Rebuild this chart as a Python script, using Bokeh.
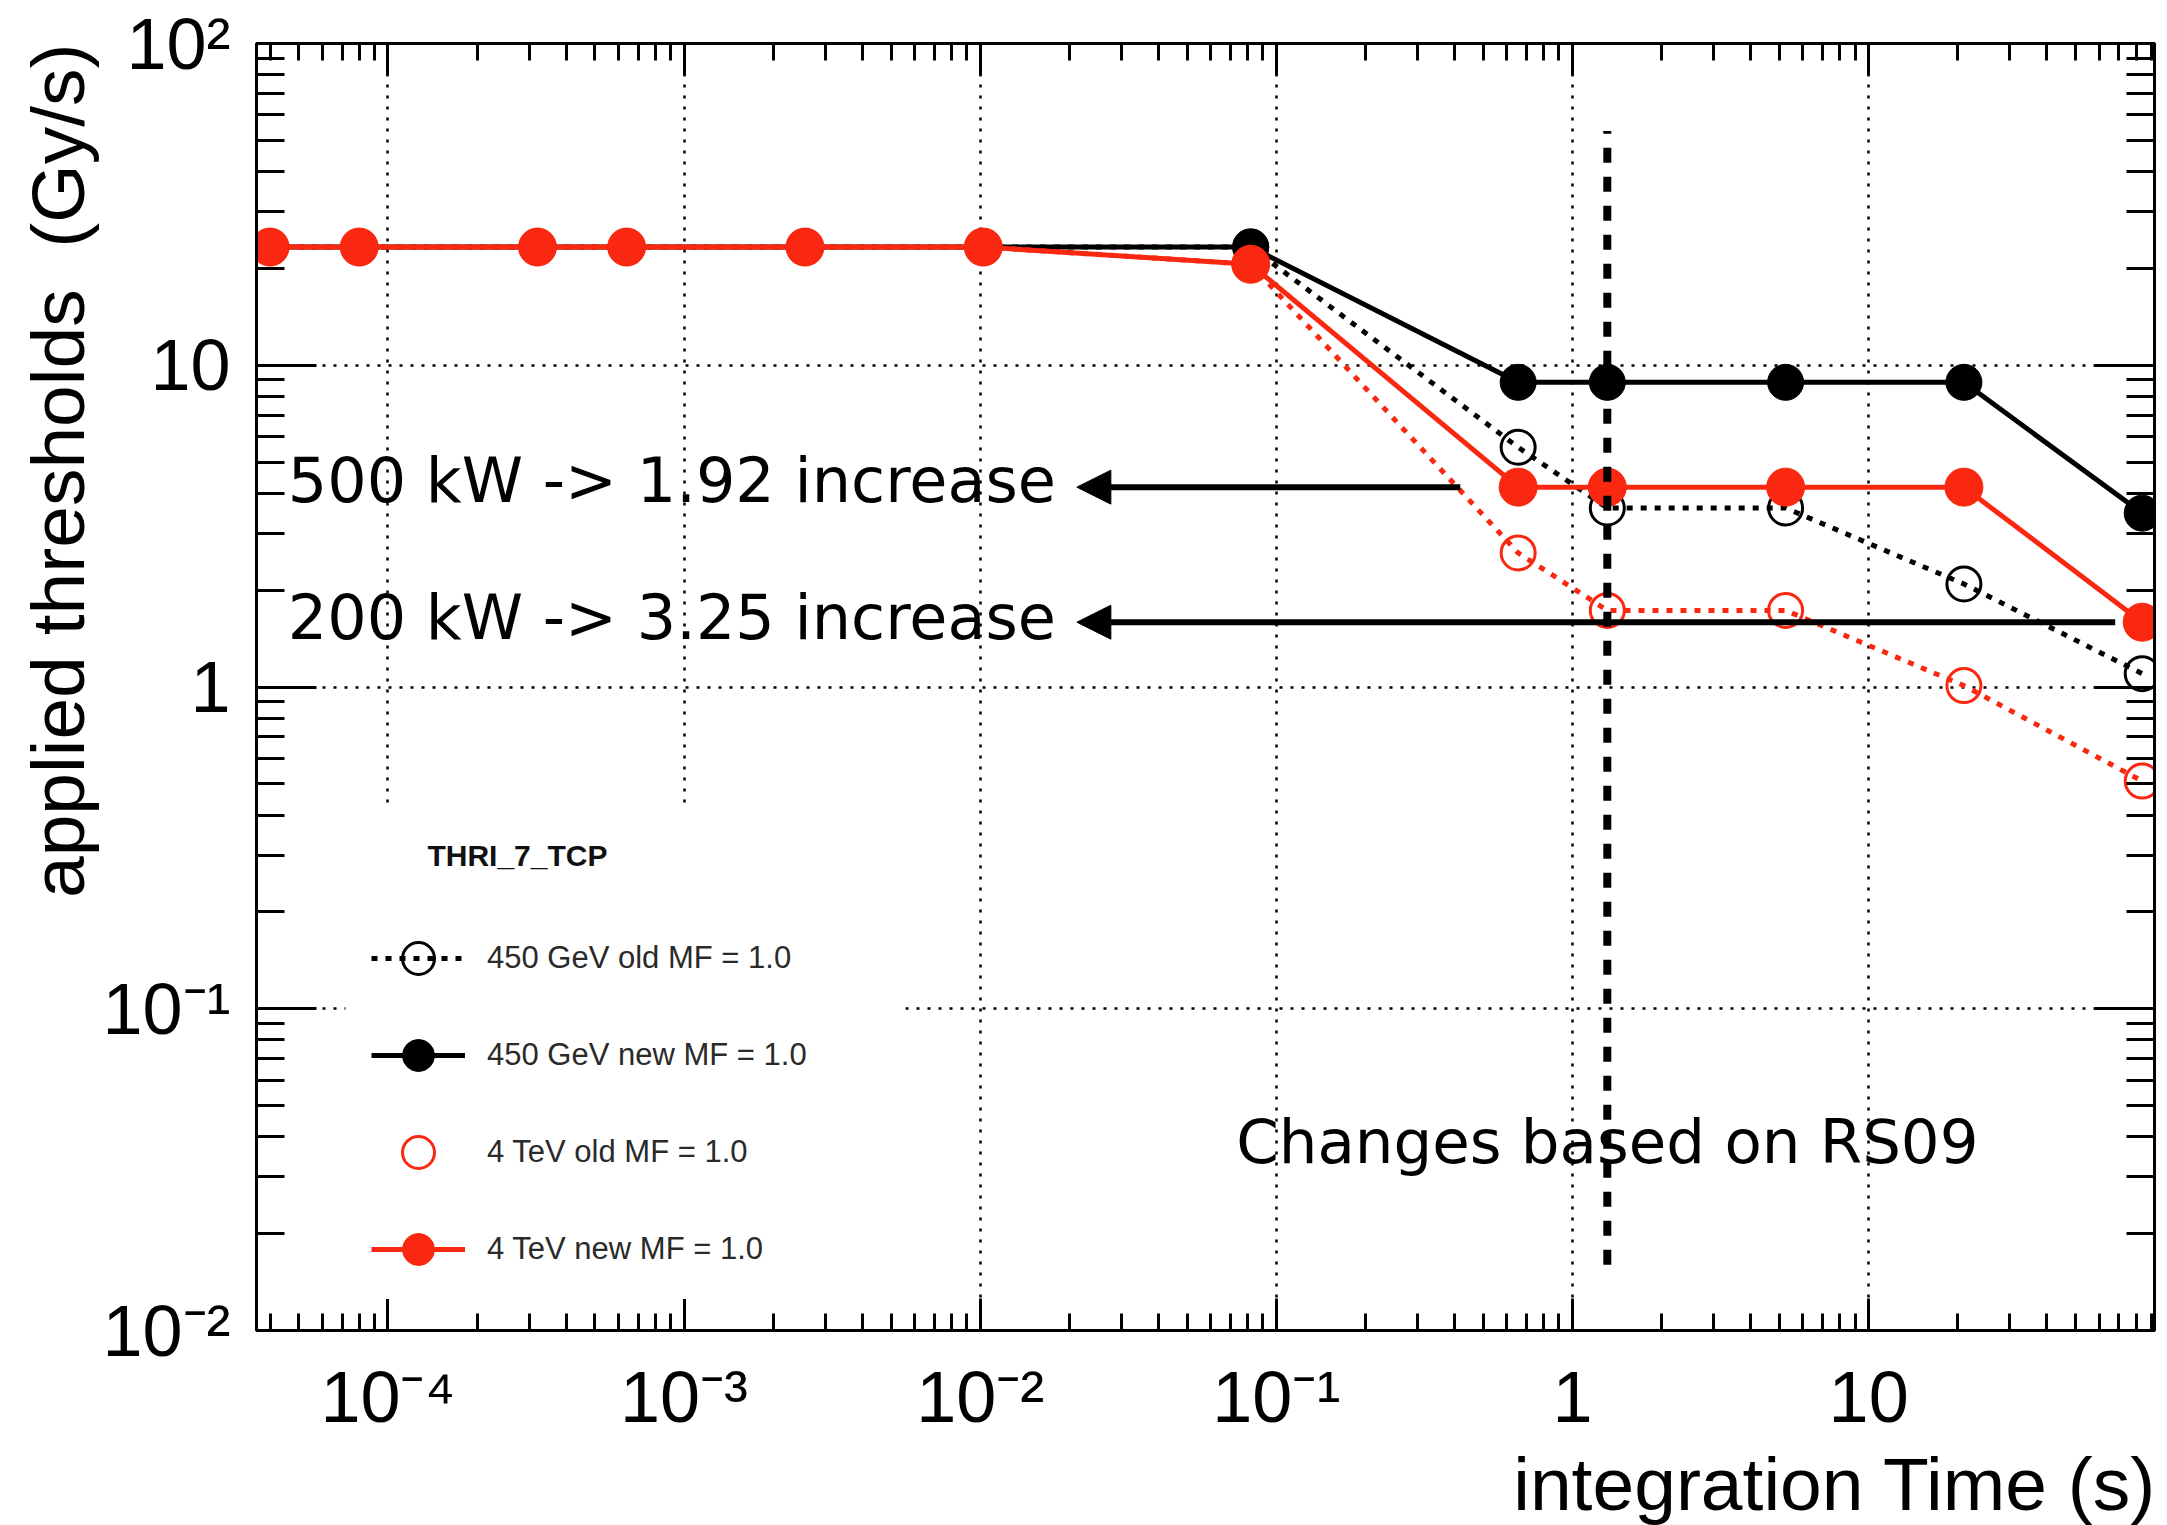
from bokeh.plotting import figure
from bokeh.models import (FixedTicker, Legend, LegendItem, Label, Arrow, NormalHead,
                          BoxAnnotation, LogAxis, Title)
from bokeh.embed import file_html
from bokeh.resources import INLINE

# ---------------- data ----------------
times = [4e-5, 8e-5, 3.2e-4, 6.4e-4, 2.56e-3, 1.024e-2, 8.192e-2,
         0.65536, 1.31072, 5.24288, 20.97152, 83.88608]
old_450gev = [23.3, 23.3, 23.3, 23.3, 23.3, 23.3, 23.3, 5.56, 3.6, 3.6, 2.09, 1.1]
new_450gev = [23.3, 23.3, 23.3, 23.3, 23.3, 23.3, 23.3, 8.85, 8.85, 8.85, 8.85, 3.47]
old_4tev = [23.3, 23.3, 23.3, 23.3, 23.3, 23.3, 20.6, 2.61, 1.73, 1.73, 1.01, 0.51]
new_4tev = [23.3, 23.3, 23.3, 23.3, 23.3, 23.3, 20.6, 4.18, 4.18, 4.18, 4.18, 1.59]

series_labels = ["450 GeV old MF = 1.0", "450 GeV new MF = 1.0",
                 "4 TeV old MF = 1.0", "4 TeV new MF = 1.0"]
legend_header = "THRI_7_TCP"
x_tick_values = [1e-4, 1e-3, 1e-2, 1e-1, 1, 10]
x_tick_labels = ["10⁻⁴", "10⁻³", "10⁻²", "10⁻¹", "1", "10"]
y_tick_values = [1e-2, 1e-1, 1, 10, 100]
y_tick_labels = ["10⁻²", "10⁻¹", "1", "10", "10²"]
x_title = "integration Time (s)"
y_title = "applied thresholds\u00a0 (Gy/s)"
note_500 = "500 kW -> 1.92 increase"
note_200 = "200 kW -> 3.25 increase"
note_rs09 = "Changes based on RS09"

# ---------------- geometry / style ----------------
X_RANGE = (3.6e-5, 92.3)
Y_RANGE = (0.01, 100)
RED = "#fa2811"
x_minor = [m * 10.0 ** k for k in range(-5, 3) for m in range(2, 10)
           if X_RANGE[0] <= m * 10.0 ** k <= X_RANGE[1]]
y_minor = [m * 10.0 ** k for k in range(-2, 2) for m in range(2, 10)]

p = figure(width=2167, height=1525, x_axis_type="log", y_axis_type="log",
           x_range=X_RANGE, y_range=Y_RANGE, title=None,
           output_backend="svg", toolbar_location=None,
           min_border_left=256, min_border_right=13, min_border_top=43,
           min_border_bottom=193)
p.background_fill_color = "white"
p.border_fill_color = "white"
p.outline_line_color = "black"
p.outline_line_width = 3


def style_axis(ax, major_len, minor_len):
    ax.major_tick_in = major_len
    ax.major_tick_out = 0
    ax.minor_tick_in = minor_len
    ax.minor_tick_out = 0
    ax.major_tick_line_width = 3
    ax.minor_tick_line_width = 3
    ax.major_tick_line_color = "black"
    ax.minor_tick_line_color = "black"
    ax.axis_line_width = 3
    ax.axis_line_color = "black"


xa = p.xaxis[0]
xa.ticker = FixedTicker(ticks=x_tick_values, minor_ticks=x_minor)
xa.major_label_overrides = {v: t for v, t in zip(x_tick_values, x_tick_labels)}
xa.major_label_text_font = "Liberation Sans"
xa.major_label_text_font_size = "72px"
xa.major_label_text_color = "black"
xa.major_label_standoff = 26
style_axis(xa, 32, 17)

ya = p.yaxis[0]
ya.ticker = FixedTicker(ticks=y_tick_values, minor_ticks=y_minor)
ya.major_label_overrides = {v: t for v, t in zip(y_tick_values, y_tick_labels)}
ya.major_label_text_font = "Liberation Sans"
ya.major_label_text_font_size = "72px"
ya.major_label_text_color = "black"
ya.major_label_standoff = 26
style_axis(ya, 60, 28)

top = LogAxis(ticker=FixedTicker(ticks=x_tick_values, minor_ticks=x_minor),
              major_label_overrides={v: "" for v in x_tick_values},
              major_label_text_font_size="1px", major_label_standoff=0)
style_axis(top, 32, 17)
p.add_layout(top, "above")
right = LogAxis(ticker=FixedTicker(ticks=y_tick_values, minor_ticks=y_minor),
                major_label_overrides={v: "" for v in y_tick_values},
                major_label_text_font_size="1px", major_label_standoff=0)
style_axis(right, 60, 28)
p.add_layout(right, "right")

# axis titles, ROOT style (right / top aligned)
p.add_layout(Title(text=x_title, align="right", text_font="Liberation Sans",
                   text_font_size="75px", text_font_style="normal",
                   text_color="black", standoff=0, offset=-2), "below")
p.add_layout(Title(text=y_title, align="right", text_font="Liberation Sans",
                   text_font_size="75px", text_font_style="normal",
                   text_color="black", standoff=0), "left")

for g, ticks in ((p.xgrid[0], x_tick_values), (p.ygrid[0], [0.1, 1, 10])):
    g.ticker = FixedTicker(ticks=ticks)
    g.grid_line_color = "black"
    g.grid_line_width = 2.5
    g.grid_line_dash = "3 8"

# ---------------- series ----------------
bo_line = p.line(times, old_450gev, line_color="black", line_width=5, line_dash="6 8")
bo_pts = p.scatter(times, old_450gev, marker="circle", size=34, fill_alpha=0,
                   line_color="black", line_width=3)
bn_line = p.line(times, new_450gev, line_color="black", line_width=5)
bn_pts = p.scatter(times, new_450gev, marker="circle", size=36,
                   fill_color="black", line_color="black")
ro_line = p.line(times, old_4tev, line_color=RED, line_width=5, line_dash="6 8")
ro_pts = p.scatter(times, old_4tev, marker="circle", size=34, fill_alpha=0,
                   line_color=RED, line_width=3)
rn_line = p.line(times, new_4tev, line_color=RED, line_width=5)
rn_pts = p.scatter(times, new_4tev, marker="circle", size=38,
                   fill_color=RED, line_color=RED)

# vertical dashed line at RS09
rs09 = times[8]
RS09_Y = (0.016, 53.5)
p.segment(x0=[rs09], y0=[RS09_Y[0]], x1=[rs09], y1=[RS09_Y[1]],
          line_color="black", line_width=8, line_dash="15 14")

# ---------------- legend ----------------
p.add_layout(BoxAnnotation(left=7.19e-5, right=5.59e-3, bottom=0.01253, top=0.4305,
                           fill_color="white", fill_alpha=1.0, line_color=None))
legend = Legend(items=[
    LegendItem(label=series_labels[0], renderers=[bo_line, bo_pts]),
    LegendItem(label=series_labels[1], renderers=[bn_line, bn_pts]),
    LegendItem(label=series_labels[2], renderers=[ro_pts]),
    LegendItem(label=series_labels[3], renderers=[rn_line, rn_pts]),
], location=(115, 41), padding=0, margin=0, spacing=17,
    glyph_width=94, glyph_height=80, label_standoff=22,
    label_text_font="Liberation Sans", label_text_font_size="31px",
    label_text_color="#2a2a2a", background_fill_alpha=0,
    border_line_color=None)
p.add_layout(legend, "center")
p.add_layout(Label(x=1.36e-4, y=0.274, y_offset=12, text=legend_header,
                   text_font="Liberation Sans", text_font_size="30px",
                   text_font_style="bold", text_align="left",
                   text_baseline="alphabetic", text_color="#111111"))

# ---------------- annotations ----------------
ARROW_TIP_X = 0.0212
for x_start, y_val, txt, dy in ((0.418, new_4tev[8], note_500, 7),
                                (68.0, new_4tev[11], note_200, 5)):
    p.add_layout(Arrow(end=NormalHead(size=34, fill_color="black", line_color="black"),
                       x_start=x_start, y_start=y_val, x_end=ARROW_TIP_X, y_end=y_val,
                       line_color="black", line_width=6))
    p.add_layout(Label(x=ARROW_TIP_X, y=y_val, x_offset=-21, y_offset=dy, text=txt,
                       text_font="DejaVu Sans", text_font_size="62px",
                       text_align="right", text_baseline="alphabetic",
                       text_color="black"))

p.add_layout(Label(x=rs09, y=0.033, y_offset=22, text=note_rs09, text_font="DejaVu Sans",
                   text_font_size="61px", text_align="center",
                   text_baseline="alphabetic", text_color="black"))

open("out.html", "w").write(file_html(p, INLINE))
